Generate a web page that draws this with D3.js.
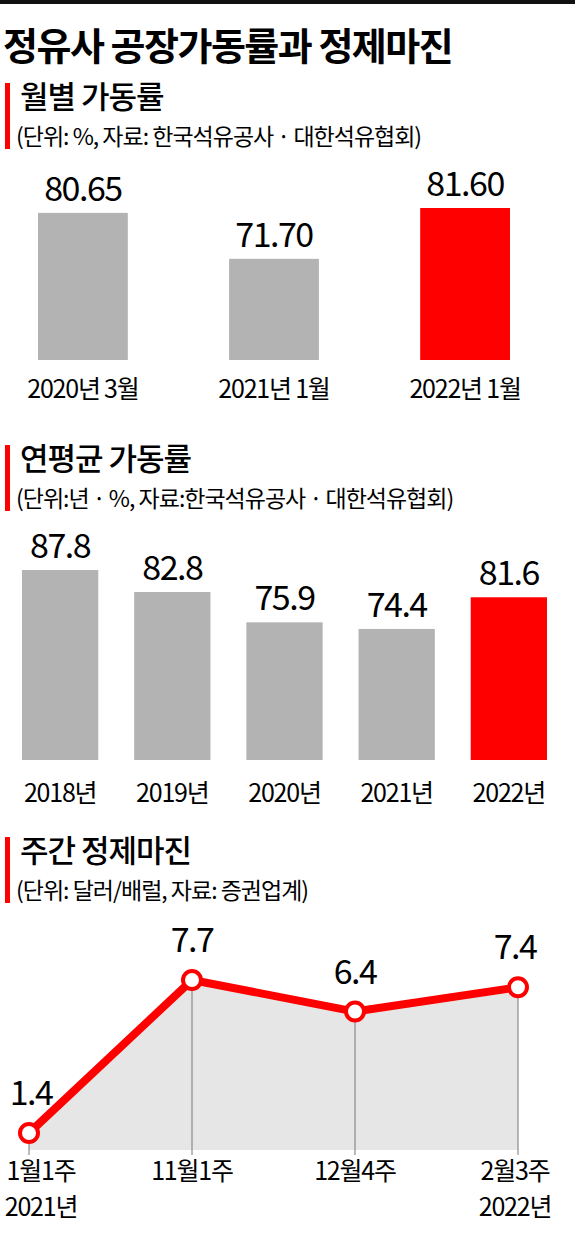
<!DOCTYPE html>
<html><head><meta charset="utf-8">
<script src="https://cdn.jsdelivr.net/npm/d3@7"></script>
<style>
body{margin:0;background:#fff;}
text{font-family:"Noto Sans CJK KR","Noto Sans",sans-serif;}
</style></head>
<body>
<script>
(function() {
  "use strict";

  var monthCats = ["2020년 3월", "2021년 1월", "2022년 1월"],
    monthVals = [80.65, 71.70, 81.60],
    monthLabels = ["80.65", "71.70", "81.60"];

  var yearCats = ["2018년", "2019년", "2020년", "2021년", "2022년"],
    yearVals = [87.8, 82.8, 75.9, 74.4, 81.6];

  var weekCats = ["1월1주", "11월1주", "12월4주", "2월3주"],
    weekSub = ["2021년", "", "", "2022년"],
    weekVals = [1.4, 7.7, 6.4, 7.4];

  var RED = "#fe0000", GRAY = "#b3b3b3";
  var width = 575, height = 1243;

  var svg = d3.select("body").append("svg")
    .attr("width", width).attr("height", height);

  svg.append("rect").attr("x", 0).attr("y", 0).attr("width", width).attr("height", 4).attr("fill", "#111");
  svg.append("text").attr("x", 3).attr("y", 60).attr("font-size", 38).attr("font-weight", 700)
    .attr("letter-spacing", -1.5).text("정유사 공장가동률과 정제마진");

  function header(y, title, note) {
    svg.append("rect").attr("x", 5).attr("y", y - 25).attr("width", 5).attr("height", 66).attr("fill", RED);
    svg.append("text").attr("x", 20).attr("y", y).attr("font-size", 31).attr("font-weight", 500)
      .attr("letter-spacing", -1).text(title);
    svg.append("text").attr("x", 16).attr("y", y + 37).attr("font-size", 23)
      .attr("letter-spacing", -1).text(note);
  }

  header(108, "월별 가동률", "(단위: %, 자료: 한국석유공사 · 대한석유협회)");
  header(470, "연평균 가동률", "(단위:년 · %, 자료:한국석유공사 · 대한석유협회)");
  header(862, "주간 정제마진", "(단위: 달러/배럴, 자료: 증권업계)");

  // monthly bars
  var x1 = d3.scaleBand().domain(monthCats).range([38, 510]).paddingInner(0.53).paddingOuter(0);
  var y1 = d3.scaleLinear().domain([52, 81.6]).range([360, 208]);
  var g1 = svg.append("g");
  g1.selectAll("rect").data(monthVals).enter().append("rect")
    .attr("x", function(d, i) { return x1(monthCats[i]); })
    .attr("y", function(d) { return y1(d); })
    .attr("width", x1.bandwidth())
    .attr("height", function(d) { return 360 - y1(d); })
    .attr("fill", function(d, i) { return i === 2 ? RED : GRAY; });
  g1.selectAll("text.v").data(monthVals).enter().append("text").attr("class", "v")
    .attr("x", function(d, i) { return x1(monthCats[i]) + x1.bandwidth() / 2; })
    .attr("y", function(d) { return y1(d) - 12; })
    .attr("text-anchor", "middle").attr("font-size", 34).attr("letter-spacing", -1.5)
    .text(function(d, i) { return monthLabels[i]; });
  g1.selectAll("text.c").data(monthCats).enter().append("text").attr("class", "c")
    .attr("x", function(d) { return x1(d) + x1.bandwidth() / 2; })
    .attr("y", 398).attr("text-anchor", "middle").attr("font-size", 25).attr("letter-spacing", -1.2)
    .text(function(d) { return d; });

  // yearly bars
  var x2 = d3.scaleBand().domain(yearCats).range([22, 547]).paddingInner(0.32).paddingOuter(0);
  var y2 = d3.scaleLinear().domain([44.6, 87.8]).range([760, 570]);
  var g2 = svg.append("g");
  g2.selectAll("rect").data(yearVals).enter().append("rect")
    .attr("x", function(d, i) { return x2(yearCats[i]); })
    .attr("y", function(d) { return y2(d); })
    .attr("width", x2.bandwidth())
    .attr("height", function(d) { return 760 - y2(d); })
    .attr("fill", function(d, i) { return i === 4 ? RED : GRAY; });
  g2.selectAll("text.v").data(yearVals).enter().append("text").attr("class", "v")
    .attr("x", function(d, i) { return x2(yearCats[i]) + x2.bandwidth() / 2; })
    .attr("y", function(d) { return y2(d) - 12; })
    .attr("text-anchor", "middle").attr("font-size", 34).attr("letter-spacing", -1.5)
    .text(function(d) { return d.toFixed(1); });
  g2.selectAll("text.c").data(yearCats).enter().append("text").attr("class", "c")
    .attr("x", function(d) { return x2(d) + x2.bandwidth() / 2; })
    .attr("y", 802).attr("text-anchor", "middle").attr("font-size", 25).attr("letter-spacing", -1.2)
    .text(function(d) { return d; });

  // weekly line
  var x3 = d3.scalePoint().domain(weekCats).range([29, 518]);
  var y3 = d3.scaleLinear().domain([0.7, 7.7]).range([1150, 980]);
  var g3 = svg.append("g");
  var area = d3.area().x(function(d, i) { return x3(weekCats[i]); }).y0(1150).y1(function(d) { return y3(d); });
  var line = d3.line().x(function(d, i) { return x3(weekCats[i]); }).y(function(d) { return y3(d); });
  g3.append("path").datum(weekVals).attr("d", area).attr("fill", "#e6e6e6");
  g3.selectAll("line.grid").data(weekVals).enter().append("line").attr("class", "grid")
    .attr("x1", function(d, i) { return x3(weekCats[i]); })
    .attr("x2", function(d, i) { return x3(weekCats[i]); })
    .attr("y1", function(d) { return y3(d); }).attr("y2", 1155)
    .attr("stroke", "#777").attr("stroke-width", 1);
  g3.append("path").datum(weekVals).attr("d", line).attr("fill", "none")
    .attr("stroke", RED).attr("stroke-width", 8).attr("stroke-linejoin", "round");
  g3.selectAll("circle").data(weekVals).enter().append("circle")
    .attr("cx", function(d, i) { return x3(weekCats[i]); })
    .attr("cy", function(d) { return y3(d); })
    .attr("r", 9).attr("fill", "#fff").attr("stroke", RED).attr("stroke-width", 4);
  g3.selectAll("text.v").data(weekVals).enter().append("text").attr("class", "v")
    .attr("x", function(d, i) { return x3(weekCats[i]) + (i === 0 ? 2 : i === 3 ? -3 : 0); })
    .attr("y", function(d) { return y3(d) - 28; })
    .attr("text-anchor", "middle").attr("font-size", 34).attr("letter-spacing", -1.5)
    .text(function(d) { return d.toFixed(1); });
  g3.selectAll("text.c").data(weekCats).enter().append("text").attr("class", "c")
    .attr("x", function(d, i) { return x3(d) + (i === 0 ? 12 : i === 3 ? -3 : 0); })
    .attr("y", 1180).attr("text-anchor", "middle").attr("font-size", 25).attr("letter-spacing", -1.2)
    .text(function(d) { return d; });
  g3.selectAll("text.s").data(weekSub).enter().append("text").attr("class", "s")
    .attr("x", function(d, i) { return x3(weekCats[i]) + (i === 0 ? 12 : -3); })
    .attr("y", 1216).attr("text-anchor", "middle").attr("font-size", 25).attr("letter-spacing", -1.2)
    .text(function(d) { return d; });
})();
</script>
</body></html>
